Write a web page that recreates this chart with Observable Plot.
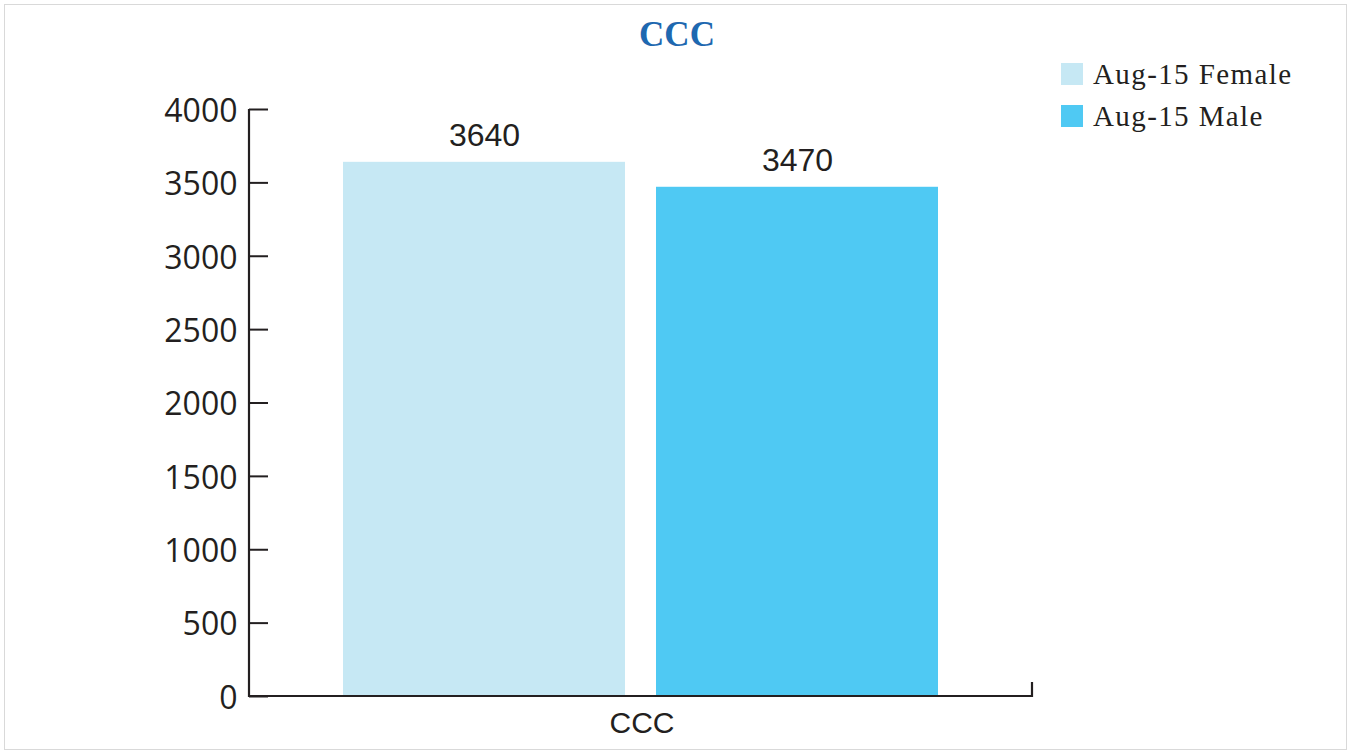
<!DOCTYPE html>
<html>
<head>
<meta charset="utf-8">
<script src="https://cdn.jsdelivr.net/npm/d3@7"></script>
<script src="https://cdn.jsdelivr.net/npm/@observablehq/plot@0.6"></script>
<style>
  html, body { margin: 0; padding: 0; background: #fff; }
  #chart { position: relative; width: 1350px; height: 753px; overflow: hidden; }
  #chart svg { position: absolute; left: 0; top: 0; }
  #border { position: absolute; left: 4px; top: 4px; width: 1341px; height: 744px; border: 1.5px solid #d9d9d9; }
  #title { position: absolute; left: 0; width: 1354px; top: 15px; text-align: center;
    font-family: "Liberation Serif", serif; font-weight: bold; font-size: 35px; color: #1e68b0; }
  .leg { position: absolute; left: 1061px; font-family: "Liberation Serif", serif; font-size: 29px;
    letter-spacing: 1.4px; color: #231f20; white-space: nowrap; line-height: 1; }
  .leg span.sw { position: absolute; left: 0; top: 0; width: 22px; height: 22px; }
  .leg span.tx { position: absolute; left: 32px; top: -3px; }
</style>
</head>
<body>
<div id="chart">
  <div id="border"></div>
  <div id="title"></div>
</div>
<script>
const title = "CCC";
const category = "CCC";
const series = ["Aug-15 Female", "Aug-15 Male"];
const values = [3640, 3470];
const colors = ["#c6e8f4", "#4fc9f3"];
const yTicks = [0, 500, 1000, 1500, 2000, 2500, 3000, 3500, 4000];

const data = series.map((s, i) => ({category, series: s, value: values[i]}));

const W = 1350, H = 753;
const mL = 249, mR = 318, mT = 109, mB = 57;
const plotW = W - mL - mR;

function axisFrame(index, scales, vals, dims) {
  const x0 = dims.marginLeft, x1 = dims.width - dims.marginRight;
  const y0 = dims.height - dims.marginBottom, y1 = dims.marginTop;
  const g = d3.create("svg:g")
    .attr("fill", "none").attr("stroke", "#231f20").attr("stroke-width", 2.2);
  g.append("path").attr("d", `M${x0},${y1}V${y0}H${x1}V${y0 - 14}`);
  return g.node();
}

const plot = Plot.plot({
  width: W, height: H,
  marginLeft: mL, marginRight: mR, marginTop: mT, marginBottom: mB,
  style: {fontFamily: "'Open Sans', sans-serif", fontSize: "32px", color: "#231f20", background: "transparent"},
  x: {domain: series, paddingInner: 0.099, paddingOuter: 0.3, axis: null},
  y: {domain: [0, 4000], ticks: yTicks, label: null},
  color: {domain: series, range: colors},
  marks: [
    Plot.barY(data, {x: "series", y: "value", fill: "series"}),
    Plot.ruleY(yTicks, {stroke: "#231f20", strokeWidth: 2, insetRight: plotW - 19}),
    Plot.axisY({ticks: yTicks, tickSize: 0, tickPadding: 12, label: null, dy: 2,
      tickFormat: d => String(d),
      fontSize: 32, fontFamily: "'Open Sans', sans-serif", fill: "#231f20"}),
    axisFrame,
    Plot.text(data, {x: "series", y: "value", text: d => String(d.value), dy: -27,
      fontFamily: "'Liberation Sans', Arial, sans-serif", fontSize: 32, fill: "#231f20"}),
    Plot.text([category], {frameAnchor: "bottom", lineAnchor: "middle", text: d => d, dy: 27, dx: 1,
      fontFamily: "'Liberation Sans', Arial, sans-serif", fontSize: 30, fill: "#231f20"})
  ]
});

const chart = document.getElementById("chart");
chart.insertBefore(plot, chart.firstChild);
document.getElementById("title").textContent = title;

series.forEach((s, i) => {
  const d = document.createElement("div");
  d.className = "leg";
  d.style.top = (63 + i * 42) + "px";
  d.innerHTML = `<span class="sw" style="background:${colors[i]}"></span><span class="tx"></span>`;
  d.querySelector(".tx").textContent = s;
  chart.appendChild(d);
});
</script>
</body>
</html>
